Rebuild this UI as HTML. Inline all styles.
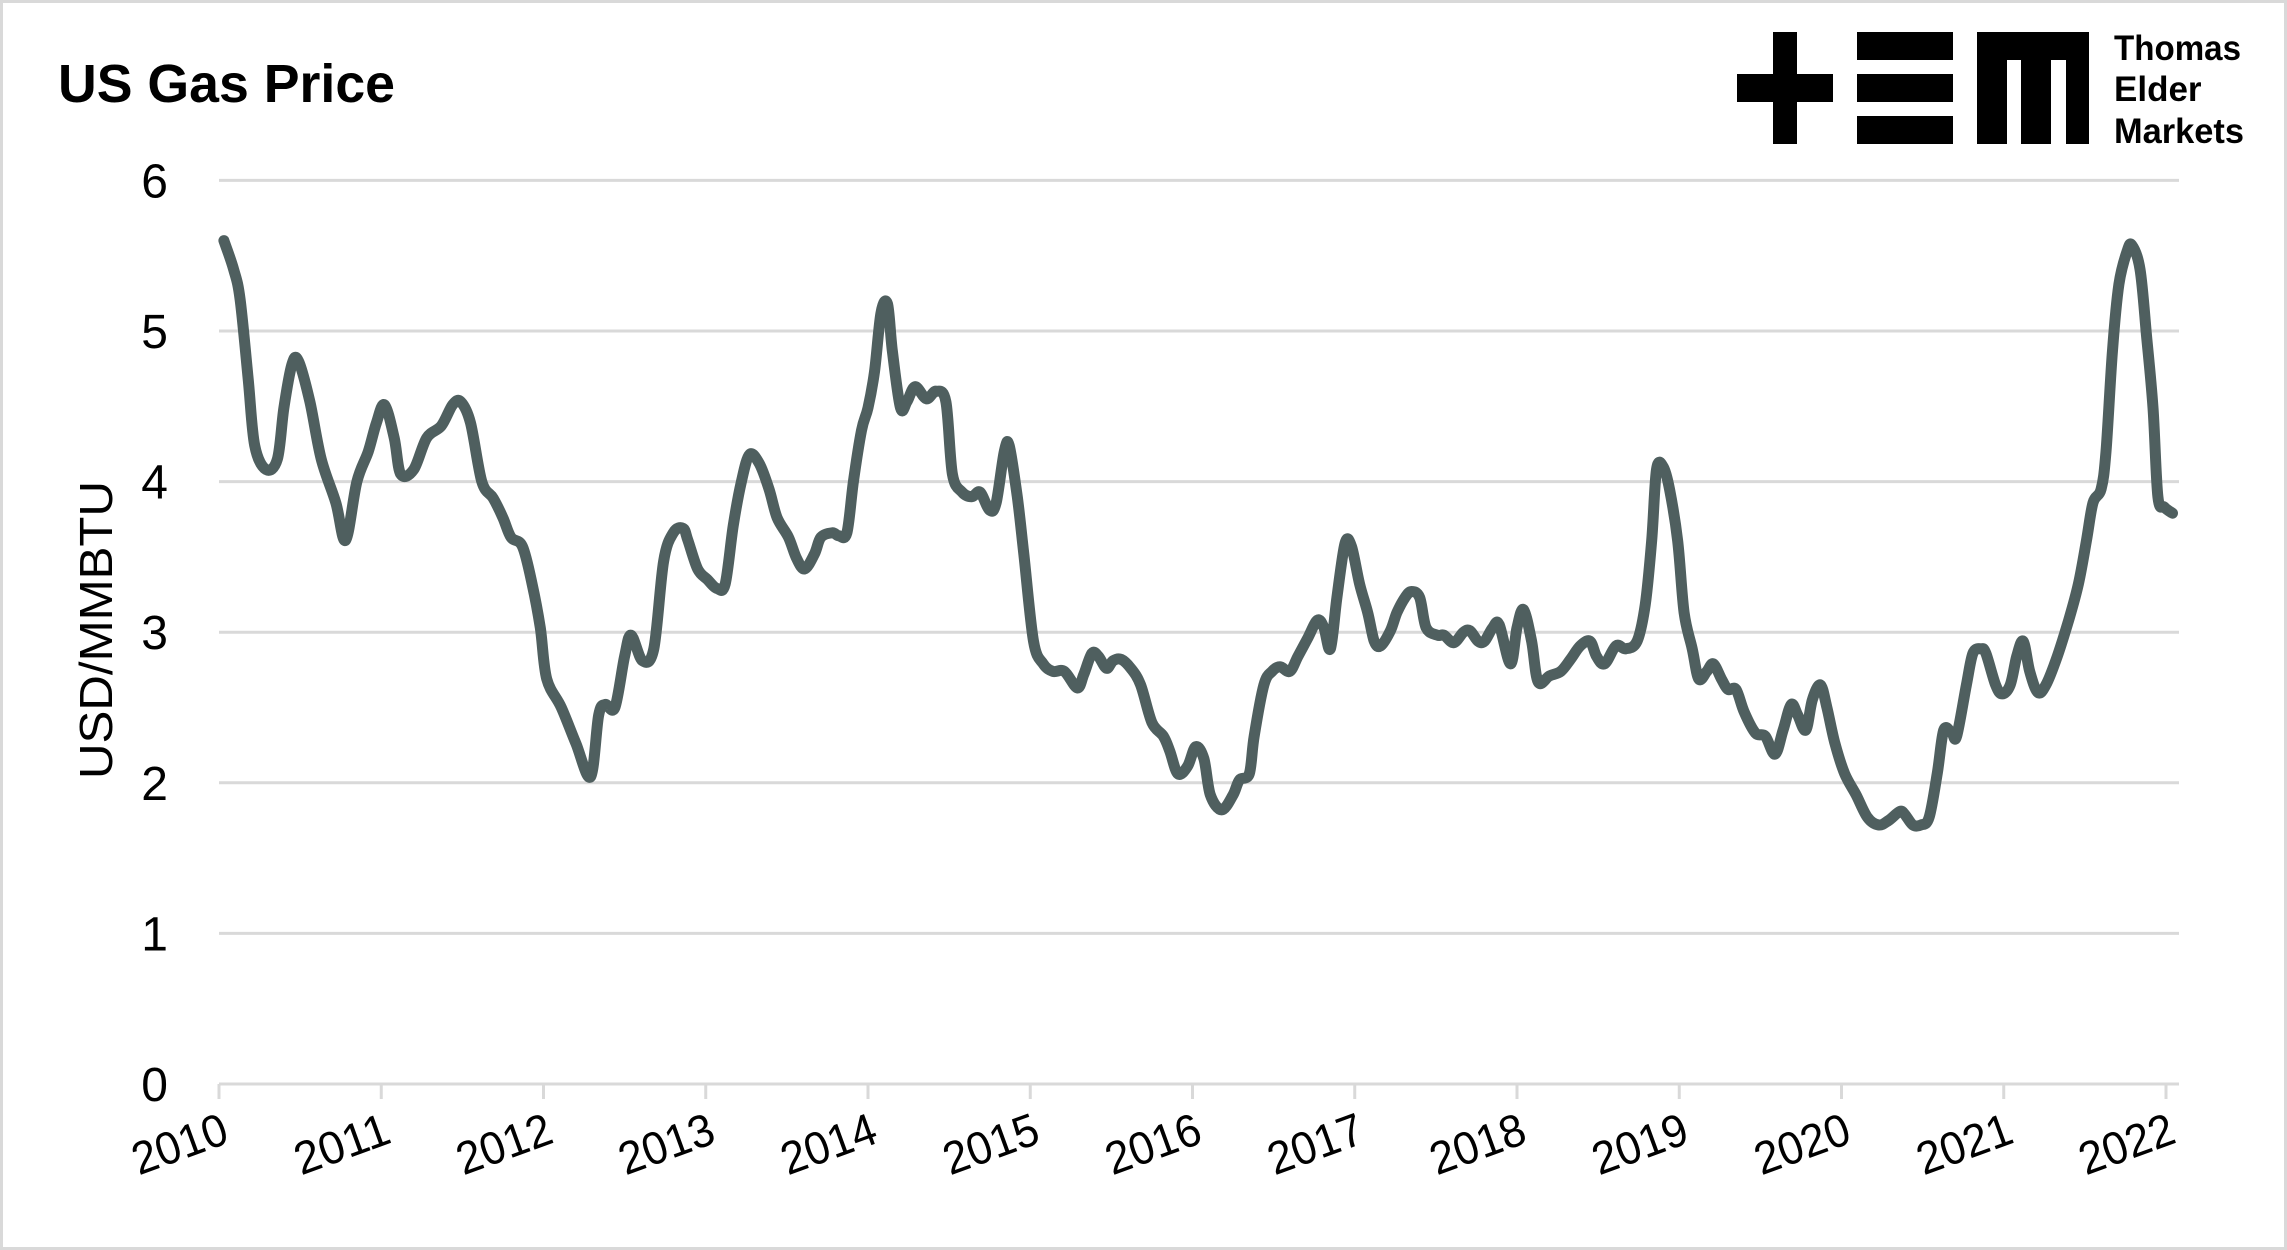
<!DOCTYPE html>
<html><head><meta charset="utf-8"><style>
html,body{margin:0;padding:0;background:#fff;}
svg{display:block;font-family:"Liberation Sans",sans-serif;}
</style></head><body>
<svg width="2287" height="1250" viewBox="0 0 2287 1250">
<rect x="1.5" y="1.5" width="2284" height="1247" fill="#fff" stroke="#d9d9d9" stroke-width="3"/>
<text x="58" y="102" font-size="54" font-weight="bold" fill="#000" textLength="337" lengthAdjust="spacingAndGlyphs">US Gas Price</text>
<g fill="#000">
<rect x="1773" y="32" width="24" height="112"/>
<rect x="1737" y="74" width="96" height="28"/>
<rect x="1857" y="32" width="96" height="28"/>
<rect x="1857" y="74" width="96" height="28"/>
<rect x="1857" y="116" width="96" height="28"/>
<rect x="1977" y="32" width="112" height="28"/>
<rect x="1977" y="32" width="30" height="112"/>
<rect x="2021" y="32" width="30" height="112"/>
<rect x="2066" y="32" width="23" height="112"/>
<text x="2114" y="60" font-size="35" font-weight="bold" textLength="127" lengthAdjust="spacingAndGlyphs">Thomas</text>
<text x="2114" y="101" font-size="35" font-weight="bold">Elder</text>
<text x="2114" y="143" font-size="35" font-weight="bold" textLength="130" lengthAdjust="spacingAndGlyphs">Markets</text>
</g>
<g id="grid"></g>
<g id="yticks"></g>
<g id="xticks"></g>
<text transform="translate(112,630) rotate(-90)" text-anchor="middle" font-size="46" fill="#000" textLength="298" lengthAdjust="spacingAndGlyphs">USD/MMBTU</text>
<path id="line" fill="none" stroke="#4f5f5f" stroke-width="11" stroke-linejoin="round" stroke-linecap="round"/>
</svg>
<script>
const yTickLabels = ["0","1","2","3","4","5","6"];
const xTickLabels = ["2010","2011","2012","2013","2014","2015","2016","2017","2018","2019","2020","2021","2022"];
const years = [2010.03,2010.09,2010.13,2010.18,2010.22,2010.29,2010.36,2010.40,2010.45,2010.49,2010.56,2010.63,2010.72,2010.78,2010.85,2010.92,2010.97,
2011.02,2011.08,2011.12,2011.20,2011.28,2011.37,2011.44,2011.49,2011.55,2011.62,2011.69,2011.75,2011.80,2011.87,2011.93,2011.98,
2012.02,2012.11,2012.20,2012.29,2012.34,2012.38,2012.44,2012.50,2012.54,2012.61,2012.68,2012.74,2012.80,2012.86,2012.89,2012.95,
2013.01,2013.07,2013.12,2013.17,2013.22,2013.27,2013.33,2013.39,2013.44,2013.51,2013.56,2013.61,2013.67,2013.71,2013.78,2013.82,2013.87,2013.91,2013.96,
2014.00,2014.04,2014.08,2014.12,2014.15,2014.20,2014.24,2014.29,2014.36,2014.42,2014.48,2014.52,2014.58,2014.64,2014.69,2014.75,2014.79,2014.84,2014.87,2014.92,2014.96,
2015.02,2015.08,2015.14,2015.21,2015.29,2015.33,2015.38,2015.42,2015.47,2015.51,2015.56,2015.62,2015.68,2015.75,2015.82,2015.86,2015.91,2015.97,
2016.02,2016.07,2016.11,2016.18,2016.25,2016.29,2016.35,2016.38,2016.44,2016.49,2016.54,2016.60,2016.65,2016.71,2016.77,2016.81,2016.85,2016.89,2016.94,2016.98,
2017.03,2017.08,2017.12,2017.16,2017.22,2017.26,2017.31,2017.35,2017.40,2017.44,2017.51,2017.55,2017.61,2017.67,2017.71,2017.76,2017.80,2017.85,2017.89,2017.96,
2018.00,2018.04,2018.09,2018.13,2018.20,2018.27,2018.33,2018.39,2018.45,2018.49,2018.54,2018.61,2018.67,2018.74,2018.79,2018.83,2018.86,2018.90,2018.94,2018.99,
2019.03,2019.08,2019.12,2019.17,2019.21,2019.26,2019.30,2019.35,2019.40,2019.47,2019.53,2019.59,2019.64,2019.69,2019.73,2019.78,2019.82,2019.87,2019.91,2019.96,
2020.02,2020.09,2020.16,2020.23,2020.29,2020.36,2020.39,2020.44,2020.49,2020.54,2020.59,2020.63,2020.68,2020.71,2020.77,2020.81,2020.86,2020.89,2020.95,2020.99,
2021.04,2021.08,2021.12,2021.16,2021.21,2021.26,2021.33,2021.40,2021.46,2021.51,2021.55,2021.60,2021.63,2021.67,2021.71,2021.76,2021.79,2021.84,2021.88,2021.92,2021.95,2021.99,2022.04];
const prices = [5.60,5.41,5.21,4.68,4.24,4.08,4.15,4.49,4.78,4.80,4.53,4.15,3.86,3.61,4.00,4.20,4.39,
4.51,4.29,4.05,4.08,4.29,4.37,4.51,4.53,4.39,4.00,3.89,3.76,3.63,3.57,3.32,3.03,
2.69,2.50,2.26,2.04,2.45,2.52,2.50,2.84,2.98,2.81,2.89,3.47,3.66,3.69,3.61,3.42,
3.35,3.29,3.32,3.71,4.00,4.18,4.12,3.95,3.76,3.63,3.49,3.42,3.52,3.63,3.66,3.64,3.66,4.00,4.34,
4.49,4.73,5.12,5.18,4.87,4.49,4.53,4.63,4.55,4.60,4.53,4.05,3.93,3.90,3.93,3.81,3.86,4.20,4.24,3.90,3.52,
2.94,2.79,2.74,2.74,2.63,2.72,2.86,2.84,2.76,2.81,2.82,2.76,2.65,2.40,2.31,2.21,2.06,2.11,
2.24,2.16,1.92,1.82,1.92,2.02,2.06,2.31,2.65,2.74,2.77,2.74,2.84,2.96,3.08,3.03,2.89,3.23,3.59,3.57,
3.32,3.13,2.94,2.91,3.01,3.13,3.23,3.27,3.23,3.03,2.98,2.98,2.93,3.00,3.01,2.94,2.94,3.03,3.05,2.79,
3.03,3.15,2.94,2.67,2.71,2.74,2.82,2.91,2.94,2.84,2.79,2.91,2.89,2.94,3.18,3.61,4.08,4.10,3.95,3.61,
3.13,2.89,2.69,2.74,2.79,2.69,2.62,2.62,2.47,2.33,2.31,2.19,2.35,2.52,2.45,2.35,2.55,2.65,2.50,2.26,
2.06,1.92,1.77,1.72,1.75,1.81,1.79,1.72,1.72,1.77,2.06,2.35,2.33,2.31,2.65,2.86,2.89,2.86,2.65,2.59,
2.65,2.84,2.94,2.74,2.60,2.65,2.84,3.08,3.32,3.61,3.86,3.95,4.20,4.87,5.31,5.53,5.57,5.41,4.97,4.49,3.90,3.83,3.79];

const NS = "http://www.w3.org/2000/svg";
function xScale(t){ return 219 + (t - 2010) * 162.25; }
function yScale(v){ return 1084 - v * 150.6; }

const grid = document.getElementById('grid');
const yt = document.getElementById('yticks');
yTickLabels.forEach(function(lbl){
  const v = parseFloat(lbl);
  const y = yScale(v);
  const ln = document.createElementNS(NS,'line');
  ln.setAttribute('x1',219); ln.setAttribute('x2',2179);
  ln.setAttribute('y1',y); ln.setAttribute('y2',y);
  ln.setAttribute('stroke','#d9d9d9'); ln.setAttribute('stroke-width','3');
  
  
  grid.appendChild(ln);
  const tx = document.createElementNS(NS,'text');
  tx.setAttribute('x',168); tx.setAttribute('y',y+17);
  tx.setAttribute('text-anchor','end'); tx.setAttribute('font-size','48');
  tx.textContent = lbl;
  
  
  yt.appendChild(tx);
});
const xt = document.getElementById('xticks');
xTickLabels.forEach(function(lbl){
  const x = xScale(parseFloat(lbl));
  const tk = document.createElementNS(NS,'line');
  tk.setAttribute('x1',x); tk.setAttribute('x2',x);
  tk.setAttribute('y1',1084); tk.setAttribute('y2',1099);
  tk.setAttribute('stroke','#d9d9d9'); tk.setAttribute('stroke-width','3');
  
  
  xt.appendChild(tk);
  const tx = document.createElementNS(NS,'text');
  tx.setAttribute('transform','translate(' + (x+12) + ',1142) rotate(-20)');
  tx.setAttribute('text-anchor','end'); tx.setAttribute('font-size','46');
  tx.setAttribute('textLength','98'); tx.setAttribute('lengthAdjust','spacingAndGlyphs');
  tx.textContent = lbl;
  
  
  xt.appendChild(tx);
});

const pts = years.map(function(t,i){ return [xScale(t), yScale(prices[i])]; });
let d = 'M' + pts[0][0].toFixed(1) + ',' + pts[0][1].toFixed(1);
for (let i = 0; i < pts.length - 1; i++){
  const p0 = pts[Math.max(0,i-1)], p1 = pts[i], p2 = pts[i+1], p3 = pts[Math.min(pts.length-1,i+2)];
  const c1x = p1[0] + (p2[0]-p0[0])/6, c1y = p1[1] + (p2[1]-p0[1])/6;
  const c2x = p2[0] - (p3[0]-p1[0])/6, c2y = p2[1] - (p3[1]-p1[1])/6;
  d += ' C' + c1x.toFixed(1) + ',' + c1y.toFixed(1) + ' ' + c2x.toFixed(1) + ',' + c2y.toFixed(1) + ' ' + p2[0].toFixed(1) + ',' + p2[1].toFixed(1);
}
document.getElementById('line').setAttribute('d', d);
</script>
</body></html>
